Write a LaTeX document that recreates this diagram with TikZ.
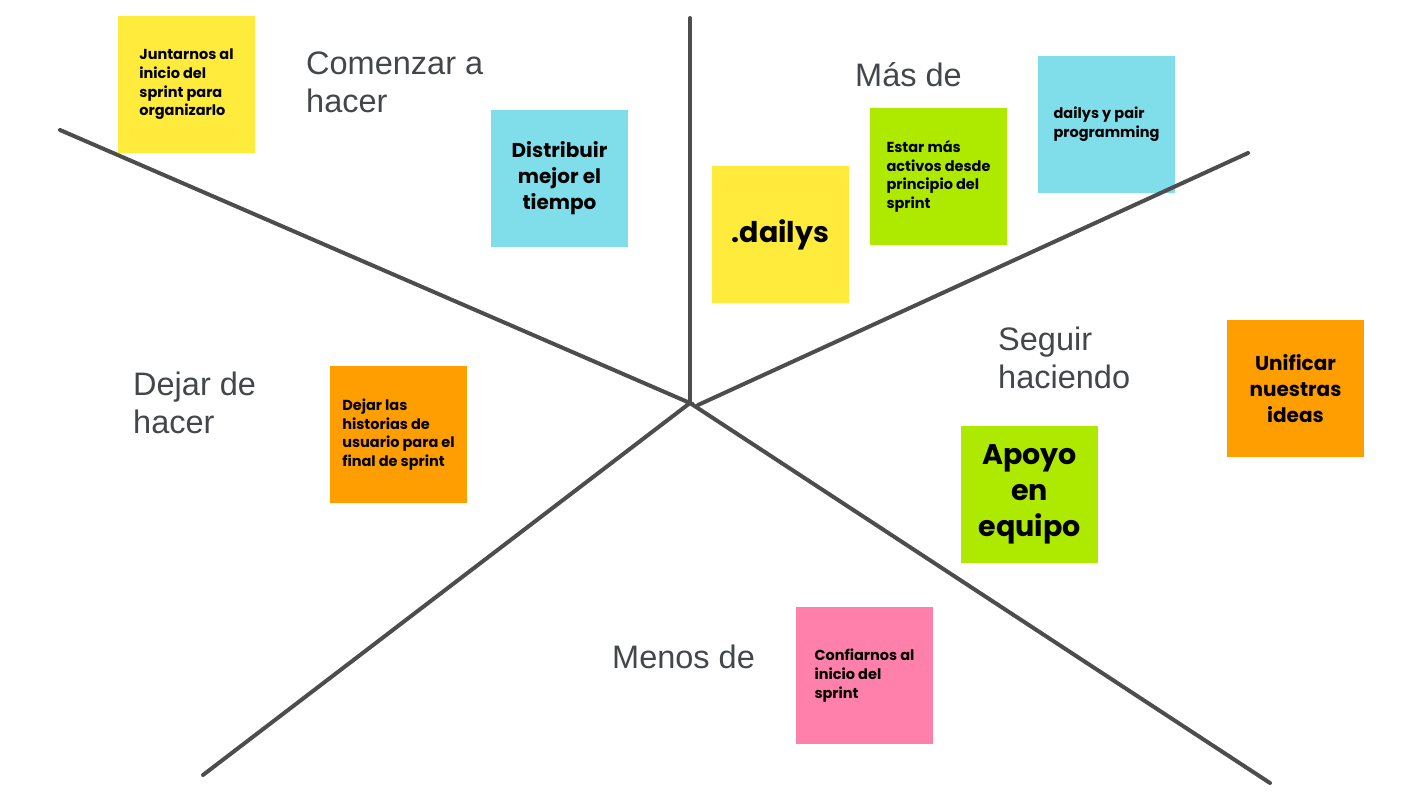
\documentclass[tikz,border=0pt]{standalone}
\usepackage{fontspec}
\setmainfont{Liberation Sans}
\newfontfamily\notefont{Poppins}
\definecolor{ynote}{HTML}{FFEB3B}
\definecolor{cnote}{HTML}{80DEEA}
\definecolor{gnote}{HTML}{AEEA00}
\definecolor{onote}{HTML}{FF9E00}
\definecolor{pnote}{HTML}{FF80AB}
\definecolor{lblgray}{HTML}{43464A}
\definecolor{axisgray}{HTML}{4D4D4D}
\tikzstyle{note}=[shape=rectangle, minimum size=137pt, inner sep=0, text=black]
\tikzstyle{snote}=[note, align=left, font=\notefont\bfseries\fontsize{14.5}{18.7}\selectfont]
\tikzstyle{mnote}=[note, align=center, font=\notefont\bfseries\fontsize{20}{26}\selectfont]
\tikzstyle{bnote}=[note, align=center, font=\notefont\bfseries\fontsize{28.5}{36}\selectfont]
\tikzstyle{lbl}=[anchor=base west, align=left, inner sep=0, text=lblgray, font=\fontsize{32.5}{38}\selectfont]
\tikzstyle{axis}=[line width=4pt, draw=axisgray, line cap=round]

\begin{document}
\begin{tikzpicture}[x=1pt,y=-1pt]
\useasboundingbox (0,0) rectangle (1422,800);
% notes
\node at (186.5,84.5) [snote, fill=ynote](juntarnos){Juntarnos al\\inicio del\\sprint para\\organizarlo};
\node at (559.5,178.5) [mnote, fill=cnote](distribuir){Distribuir\\mejor el\\tiempo};
\node at (780.5,234.5) [bnote, fill=ynote](dailys){.dailys};
\node at (938.5,176.5) [snote, fill=gnote](estar){Estar más\\activos desde\\principio del\\sprint};
\node at (1106.5,124.5) [snote, fill=cnote](pair){dailys y pair\\programming};
\node at (398.5,434.5) [snote, fill=onote](dejar){Dejar las\\historias de\\usuario para el\\final de sprint};
\node at (1295.5,388.5) [mnote, fill=onote](unificar){Unificar\\nuestras\\ideas};
\node at (1029.5,494.5) [bnote, fill=gnote](apoyo){Apoyo\\en\\equipo};
\node at (864.5,675.5) [snote, fill=pnote](confiarnos){Confiarnos al\\inicio del\\sprint};
% labels
\node at (306,112) [lbl](comenzar){Comenzar a\\hacer};
\node at (855,87) [lbl](masde){Más de};
\node at (998,388) [lbl](seguir){Seguir\\haciendo};
\node at (133,433) [lbl](dejarde){Dejar de\\hacer};
\node at (612,668) [lbl](menosde){Menos de};
% axes
\coordinate (c) at (690,403);
\coordinate (c2) at (698,405);
\coordinate (top) at (690,18);
\coordinate (ul) at (60,130);
\coordinate (ur) at (1248,153);
\coordinate (ll) at (203,775);
\coordinate (lr) at (1270,783);
\draw[axis] (top)--(c);
\draw[axis] (ul)--(c)--(ll);
\draw[axis] (ur)--(c2);
\draw[axis] (c)--(lr);
\end{tikzpicture}
\end{document}
